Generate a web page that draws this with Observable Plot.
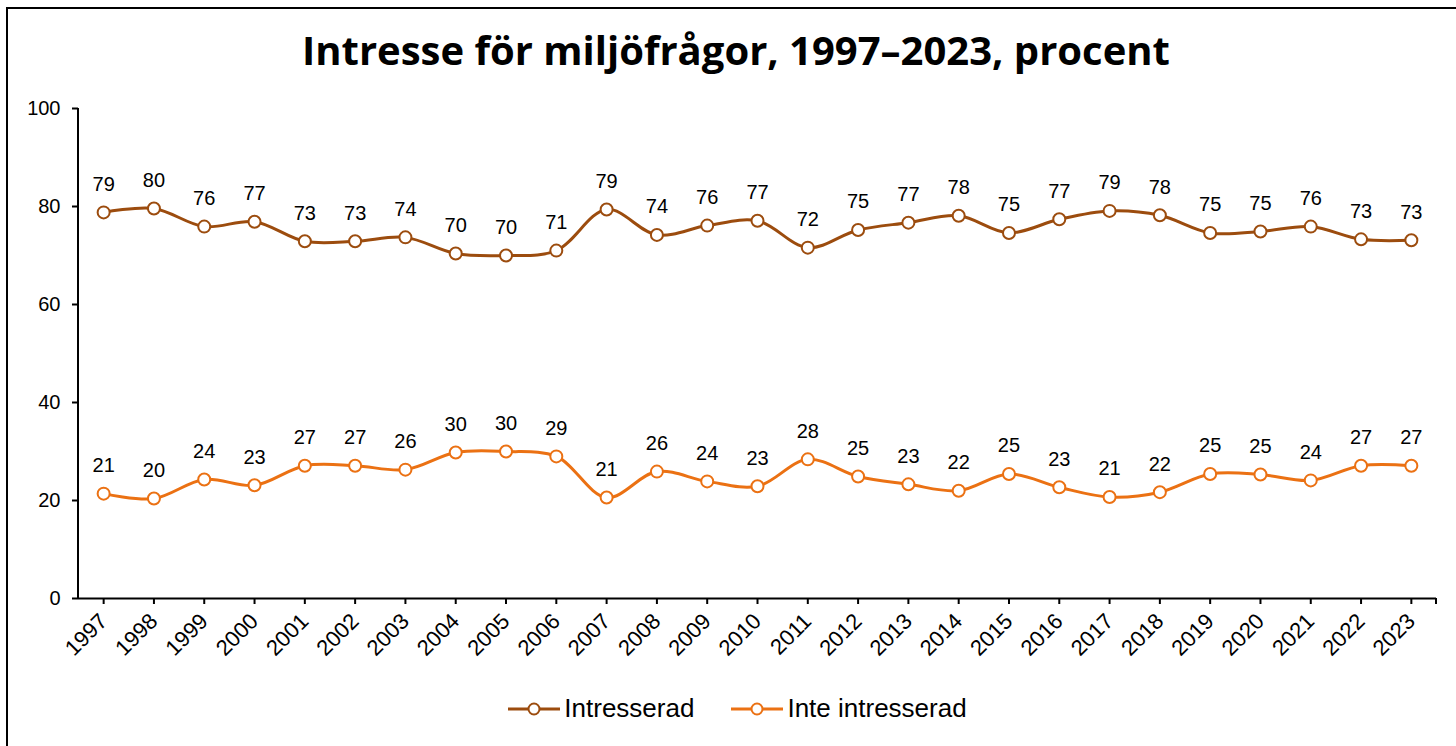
<!DOCTYPE html>
<html>
<head>
<meta charset="utf-8">
<script src="https://cdn.jsdelivr.net/npm/d3@7"></script>
<script src="https://cdn.jsdelivr.net/npm/@observablehq/plot@0.6"></script>
<style>
  html, body { margin: 0; padding: 0; background: #fff; overflow: hidden; }
  #wrap { position: relative; width: 1456px; height: 746px; overflow: hidden; }
  #frame { position: absolute; left: 6px; top: 7px; width: 1480px; height: 780px; border: 2px solid #000; box-sizing: border-box; }
  #title { position: absolute; left: 0; top: 22px; width: 1472px; text-align: center; font-family: "Open Sans", "Noto Sans", sans-serif; font-weight: 700; font-size: 40px; color: #000; }
  #chart { position: absolute; left: 0; top: 0; }
  #legend { position: absolute; left: 0; top: 693px; width: 1474px; display: flex; justify-content: center; gap: 36px; font-family: "Liberation Sans", Arial, sans-serif; font-size: 26px; color: #000; }
  .item { display: flex; align-items: center; gap: 3px; }
</style>
</head>
<body>
<div id="wrap">
  <div id="frame"></div>
  <div id="chart"></div>
  <div id="title">Intresse för miljöfrågor, 1997–2023, procent</div>
  <div id="legend"></div>
</div>
<script>
const years = [1997, 1998, 1999, 2000, 2001, 2002, 2003, 2004, 2005, 2006, 2007, 2008, 2009, 2010, 2011, 2012, 2013, 2014, 2015, 2016, 2017, 2018, 2019, 2020, 2021, 2022, 2023];
const intresserad = [78.8, 79.6, 75.9, 76.9, 72.9, 72.9, 73.7, 70.4, 70.0, 71.0, 79.4, 74.2, 76.1, 77.1, 71.6, 75.2, 76.7, 78.1, 74.6, 77.4, 79.1, 78.2, 74.6, 74.9, 75.9, 73.3, 73.1];
const inteIntresserad = [21.4, 20.4, 24.3, 23.1, 27.1, 27.1, 26.3, 29.8, 30.0, 29.0, 20.6, 25.9, 23.9, 22.9, 28.4, 24.9, 23.3, 22.0, 25.4, 22.7, 20.7, 21.7, 25.4, 25.3, 24.1, 27.1, 27.1];
const seriesNames = ["Intresserad", "Inte intresserad"];
const seriesColors = ["#9C4C0E", "#EB7113"];
const yTicks = [0, 20, 40, 60, 80, 100];

const rows = [];
years.forEach((y, i) => {
  rows.push({year: String(y), value: intresserad[i], series: seriesNames[0]});
  rows.push({year: String(y), value: inteIntresserad[i], series: seriesNames[1]});
});

const font = '"Liberation Sans", Arial, sans-serif';

const chart = Plot.plot({
  width: 1456,
  height: 700,
  marginLeft: 78,
  marginRight: 20,
  marginTop: 108,
  marginBottom: 102,
  style: {fontFamily: font, fontSize: "20px", color: "#000", background: "transparent", overflow: "visible"},
  x: {type: "point", domain: years.map(String), padding: 0.5, round: false, label: null},
  y: {domain: [0, 100], label: null},
  color: {domain: seriesNames, range: seriesColors},
  marks: [
    Plot.axisY({ticks: yTicks, tickSize: 6, tickPadding: 12, stroke: "#000", strokeWidth: 2, fontSize: 20, label: null}),
    Plot.axisX({tickSize: 6, tickPadding: 13, tickRotate: -45, stroke: "#000", strokeWidth: 2, fontSize: 22, label: null}),
    Plot.ruleY([0], {stroke: "#000", strokeWidth: 2}),
    // y axis line and right-end tick of the x axis
    (index, scales, values, dims) => {
      const g = d3.create("svg:g");
      g.append("line")
        .attr("x1", dims.marginLeft).attr("x2", dims.marginLeft)
        .attr("y1", scales.y(100)).attr("y2", scales.y(0))
        .attr("stroke", "#000").attr("stroke-width", 2);
      const xr = dims.width - dims.marginRight;
      g.append("line")
        .attr("x1", xr).attr("x2", xr)
        .attr("y1", scales.y(0)).attr("y2", scales.y(0) + 6)
        .attr("stroke", "#000").attr("stroke-width", 2);
      return g.node();
    },
    Plot.line(rows, {x: "year", y: "value", z: "series", stroke: "series", strokeWidth: 3, curve: "catmull-rom"}),
    Plot.dot(rows, {x: "year", y: "value", stroke: "series", fill: "#fff", r: 6, strokeWidth: 2}),
    Plot.text(rows, {x: "year", y: "value", text: d => Math.round(d.value).toString(), dy: -28, fontSize: 20, fill: "#000"})
  ]
});
document.getElementById("chart").appendChild(chart);

const legend = document.getElementById("legend");
seriesNames.forEach((name, i) => {
  const item = document.createElement("div");
  item.className = "item";
  item.innerHTML = `<svg width="54" height="16"><line x1="1" x2="53" y1="8" y2="8" stroke="${seriesColors[i]}" stroke-width="3"/><circle cx="27" cy="8" r="5.5" fill="#fff" stroke="${seriesColors[i]}" stroke-width="2"/></svg><span>${name}</span>`;
  legend.appendChild(item);
});
</script>
</body>
</html>
